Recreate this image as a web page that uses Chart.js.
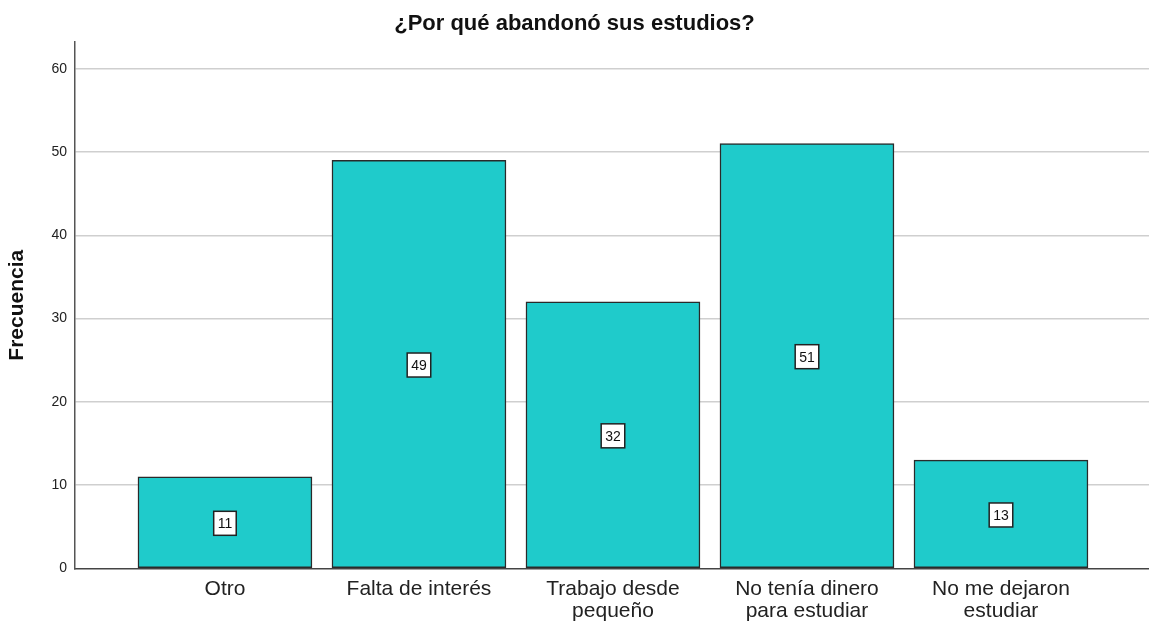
<!DOCTYPE html>
<html>
<head>
<meta charset="utf-8">
<script src="https://cdn.jsdelivr.net/npm/chart.js@4.4.1/dist/chart.umd.min.js"></script>
<style>
  html, body { margin: 0; padding: 0; background: #ffffff; overflow: hidden; }
  #wrap { width: 1149px; height: 621px; position: relative; }
</style>
</head>
<body>
<div id="wrap"><canvas id="c" width="1149" height="621"></canvas></div>
<script>
const chartTitle = "¿Por qué abandonó sus estudios?";
const yAxisTitle = "Frecuencia";
const categories = [
  ["Otro"],
  ["Falta de interés"],
  ["Trabajo desde", "pequeño"],
  ["No tenía dinero", "para estudiar"],
  ["No me dejaron", "estudiar"]
];
const frequencies = [11, 49, 32, 51, 13];
const yTicks = [0, 10, 20, 30, 40, 50, 60];

const points = frequencies.map((v, i) => ({ x: i, y: v }));

const labelBoxes = {
  id: 'labelBoxes',
  afterDatasetsDraw(chart) {
    const ctx = chart.ctx;
    const meta = chart.getDatasetMeta(0);
    ctx.save();
    ctx.font = '14px "Liberation Sans", Arial, sans-serif';
    ctx.textAlign = 'center';
    ctx.textBaseline = 'middle';
    meta.data.forEach((bar, i) => {
      const txt = String(frequencies[i]);
      const cx = bar.x;
      const cy = (bar.y + bar.base) / 2 + 1;
      const w = ctx.measureText(txt).width + 8;
      const h = 24;
      ctx.fillStyle = '#ffffff';
      ctx.fillRect(cx - w / 2, cy - h / 2, w, h);
      ctx.lineWidth = 1.5;
      ctx.strokeStyle = '#222222';
      ctx.strokeRect(cx - w / 2, cy - h / 2, w, h);
      ctx.fillStyle = '#111111';
      ctx.fillText(txt, cx, cy + 1);
    });
    ctx.restore();
  }
};

new Chart(document.getElementById('c'), {
  type: 'bar',
  data: {
    datasets: [{
      data: points,
      backgroundColor: '#1FCBCB',
      borderColor: '#2a2a2a',
      borderWidth: 1.5,
      borderSkipped: false,
      barThickness: 174
    }]
  },
  options: {
    responsive: false,
    animation: false,
    devicePixelRatio: 1,
    layout: { padding: 0 },
    plugins: {
      legend: { display: false },
      tooltip: { enabled: false },
      title: {
        display: true,
        text: chartTitle,
        color: '#111111',
        font: { family: '"Liberation Sans", Arial, sans-serif', size: 22, weight: 'bold', lineHeight: 1.2 },
        padding: { top: 10.8, bottom: 4.8 }
      }
    },
    scales: {
      x: {
        type: 'linear',
        offset: false,
        min: -0.773,
        max: 4.763,
        grid: { display: false, drawTicks: true, tickLength: 10 },
        border: { display: true, color: '#444444', width: 1.5 },
        ticks: {
          stepSize: 1,
          autoSkip: false,
          maxRotation: 0,
          padding: 0,
          color: '#222222',
          font: { family: '"Liberation Sans", Arial, sans-serif', size: 21, lineHeight: 1.05 },
          callback: (v) => (Number.isInteger(v) && v >= 0 && v < categories.length) ? categories[v] : ''
        },
        afterFit: (s) => { s.height = 52.5; }
      },
      y: {
        min: 0,
        max: 63.2,
        grid: {
          drawTicks: false,
          lineWidth: 1.5,
          color: (c) => (c.tick && yTicks.includes(c.tick.value) && c.tick.value !== 0) ? '#cfcfcf' : 'rgba(0,0,0,0)'
        },
        border: { display: true, color: '#555555', width: 1.5 },
        ticks: {
          stepSize: 10,
          padding: 8,
          color: '#222222',
          font: { family: '"Liberation Sans", Arial, sans-serif', size: 14 },
          callback: (v) => yTicks.includes(v) ? String(v) : ''
        },
        title: {
          display: true,
          text: yAxisTitle,
          color: '#111111',
          font: { family: '"Liberation Sans", Arial, sans-serif', size: 21, weight: 'bold' },
          padding: { top: 4.4, bottom: 0 }
        },
        afterFit: (s) => { s.width = 75; }
      }
    }
  },
  plugins: [labelBoxes]
});
</script>
</body>
</html>
